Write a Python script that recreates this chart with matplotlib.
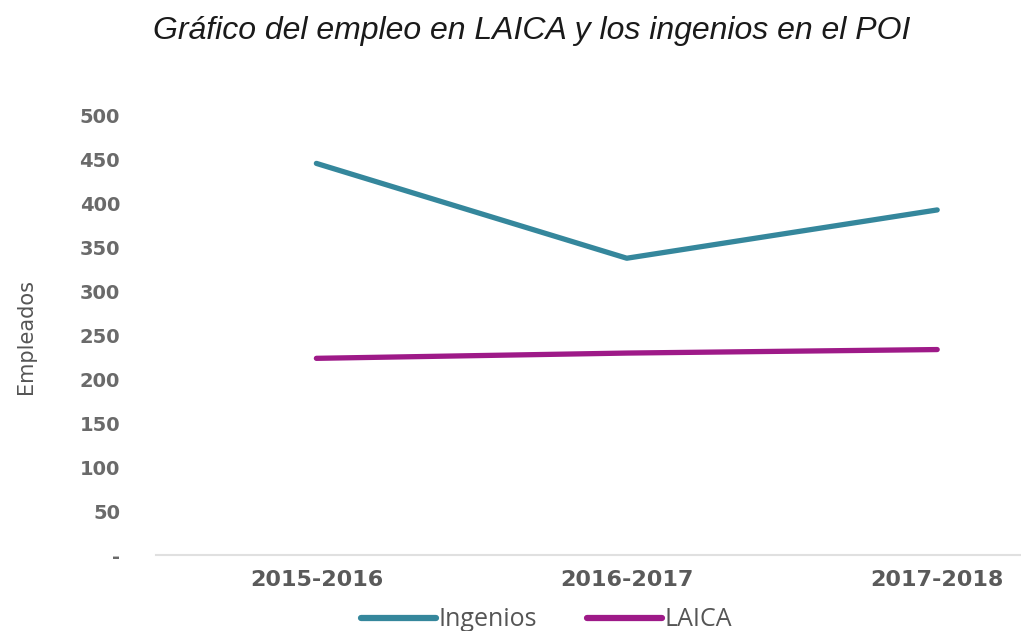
import matplotlib
matplotlib.use('Agg')
import matplotlib.pyplot as plt
import numpy as np

periodos = ['2015-2016', '2016-2017', '2017-2018']
ingenios = [446, 338, 393]
laica = [224, 230, 234]
y_ticks = [0, 50, 100, 150, 200, 250, 300, 350, 400, 450, 500]
y_labels = ['-', '50', '100', '150', '200', '250', '300', '350', '400', '450', '500']

fig = plt.figure(figsize=(10.21, 6.31), dpi=100)
ax = fig.add_axes([0.153, 0.1204, 0.847, 0.6958])

x = np.arange(len(periodos))
ax.plot(x, ingenios, color='#35879c', lw=3.8, solid_capstyle='round', label='Ingenios')
ax.plot(x, laica, color='#9e1a88', lw=3.8, solid_capstyle='round', label='LAICA')

ax.set_xlim(-0.516, 2.27)
ax.set_ylim(0, 500)
ax.set_xticks(x)
ax.set_xticklabels(periodos, fontsize=16, fontweight='bold', color='#5a5a5a', family='DejaVu Sans')
ax.set_yticks(y_ticks)
ax.set_yticklabels(y_labels, fontsize=14, fontweight='bold', color='#6a6a6a', family='DejaVu Sans')
ax.tick_params(axis='y', length=0, pad=26)
ax.tick_params(axis='x', length=0, pad=11)
for s in ['top', 'right', 'left']:
    ax.spines[s].set_visible(False)
ax.spines['bottom'].set_color('#e0e0e0')
ax.spines['bottom'].set_linewidth(1.5)

fig.text(0.025, 1 - 336 / 631, 'Empleados', rotation=90, ha='center', va='center',
         fontsize=15, color='#555555', family='Liberation Sans Narrow')
fig.text(532 / 1021, 1 - 31 / 631, 'Gráfico del empleo en LAICA y los ingenios en el POI',
         ha='center', va='center', fontsize=23, style='italic', family='Liberation Sans', color='#1a1a1a')

leg = fig.legend(loc='center', bbox_to_anchor=(546 / 1021, 1 - 620 / 631), ncol=2, frameon=False,
                 handlelength=3.0, handletextpad=0.1, columnspacing=2.0,
                 prop={'family': 'Open Sans', 'size': 18})
for t in leg.get_texts():
    t.set_color('#555555')
for h in leg.legend_handles:
    h.set_linewidth(4.5)

fig.savefig('out.png', dpi=100)
